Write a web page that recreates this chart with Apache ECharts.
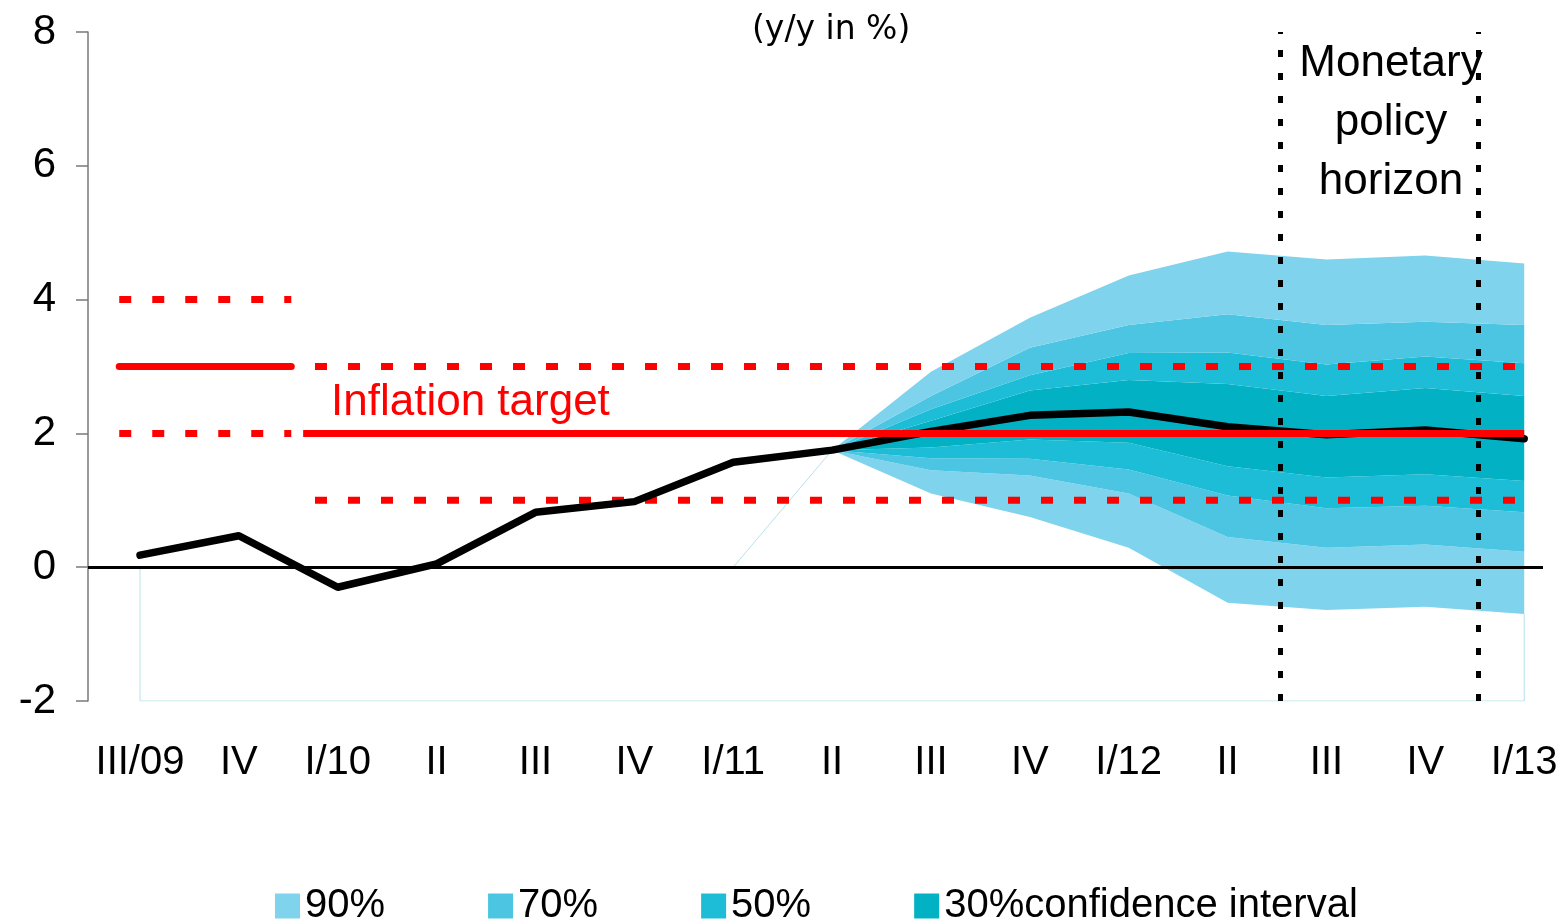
<!DOCTYPE html>
<html>
<head>
<meta charset="utf-8">
<title>Inflation forecast</title>
<script src="https://cdn.jsdelivr.net/npm/echarts@6/dist/echarts.min.js"></script>
<style>
  html, body { margin: 0; padding: 0; background: #fff; }
  #chart { width: 1565px; height: 919px; }
</style>
</head>
<body>
<div id="chart"></div>
<script>
// quarters on the x axis
const categories = ['III/09', 'IV', 'I/10', 'II', 'III', 'IV', 'I/11', 'II', 'III', 'IV', 'I/12', 'II', 'III', 'IV', 'I/13'];
// CPI y/y in %
const inflation = [0.18, 0.47, -0.30, 0.05, 0.82, 0.98, 1.57, 1.75, 2.03, 2.27, 2.32, 2.10, 1.98, 2.05, 1.92];

// fan chart, starts at II/11 (index 7)
const fanStart = 7;
const upper90 = [1.75, 2.92, 3.73, 4.36, 4.72, 4.60, 4.66, 4.54];
const upper70 = [1.75, 2.56, 3.28, 3.62, 3.78, 3.62, 3.67, 3.62];
const upper50 = [1.75, 2.36, 2.87, 3.20, 3.21, 3.03, 3.15, 3.05];
const upper30 = [1.75, 2.19, 2.64, 2.80, 2.74, 2.56, 2.68, 2.56];
const lower30 = [1.75, 1.79, 1.91, 1.86, 1.51, 1.34, 1.39, 1.29];
const lower50 = [1.75, 1.63, 1.62, 1.46, 1.07, 0.88, 0.92, 0.82];
const lower70 = [1.75, 1.45, 1.37, 1.10, 0.45, 0.29, 0.34, 0.23];
const lower90 = [1.75, 1.10, 0.75, 0.29, -0.53, -0.64, -0.59, -0.70];

// inflation targets (x in quarter index units)
const oldTargetX = [-0.21, 1.53];
const oldTarget = 3;
const oldBand = [2, 4];
const newTargetX = [1.65, 14];
const newBandX = [1.77, 14];
const newTarget = 2;
const newBand = [1, 3];

// monetary policy horizon
const horizonX = [11.53, 13.545];

const yTicks = [-2, 0, 2, 4, 6, 8];

const colors = {
  c90: '#7fd3ed',
  c70: '#4bc5e1',
  c50: '#1ebdd7',
  c30: '#02b2c4',
  red: '#ff0000',
  ghost: '#b5e2ec',
};

const myChart = echarts.init(document.getElementById('chart'));

const xs = lower90.map((v, i) => fanStart + i);
// fan data is kept as [y, x] so the stack runs on the y values
const diff = (a, b) => a.map((v, i) => [+(v - b[i]).toFixed(3), xs[i]]);

function band(name, data, color) {
  return {
    name,
    type: 'line',
    stack: 'fan',
    stackStrategy: 'all',
    encode: { x: 1, y: 0 },
    data,
    symbol: 'none',
    z: 1,
    silent: true,
    itemStyle: { color },
    lineStyle: { width: 0, color },
    areaStyle: { color, opacity: 1 },
  };
}

function flat(xr, y) {
  return xr.map(x => [x, y]);
}

const dotted = { color: colors.red, width: 7, type: [12, 21] };

const option = {
  animation: false,
  textStyle: { fontFamily: 'Liberation Sans, Arial, sans-serif', color: '#000' },
  grid: { left: 88, right: 22, top: 32, bottom: 218, containLabel: false },
  legend: {
    left: 270,
    top: 881,
    icon: 'rect',
    itemWidth: 25,
    itemHeight: 25,
    itemGap: 103,
    selectedMode: false,
    data: ['90%', '70%', '50%', '30%confidence interval'],
    textStyle: { fontSize: 40, color: '#000', fontFamily: 'Liberation Sans, Arial' },
  },
  graphic: [
    {
      type: 'text', left: 752, top: 14,
      style: { text: '(y/y in %)', fontSize: 33, fontFamily: 'DejaVu Sans', fill: '#000' },
    },
    {
      type: 'text', left: 331, top: 381,
      style: { text: 'Inflation target', fontSize: 44, fontFamily: 'Liberation Sans', fill: colors.red },
    },
    {
      type: 'text', x: 1391, y: 34,
      style: {
        text: 'Monetary\npolicy\nhorizon', fontSize: 44, lineHeight: 59, align: 'center',
        fontFamily: 'Liberation Sans', fill: '#000',
      },
    },
  ],
  xAxis: {
    type: 'value',
    min: -0.526,
    max: 14.19,
    axisLine: { show: false },
    axisTick: { show: false },
    splitLine: { show: false },
    axisLabel: {
      customValues: categories.map((c, i) => i),
      formatter: v => categories[Math.round(v)] || '',
      fontSize: 40,
      margin: 42,
      color: '#000',
    },
  },
  yAxis: {
    type: 'value',
    min: yTicks[0],
    max: yTicks[yTicks.length - 1],
    interval: 2,
    splitLine: { show: false },
    axisLine: { show: true, onZero: false, lineStyle: { color: '#7a7a7a', width: 1.5 } },
    axisTick: { show: true, length: 12, lineStyle: { color: '#7a7a7a', width: 1.5 } },
    axisLabel: { fontSize: 42, margin: 32, color: '#000' },
  },
  series: [
    // stacked fan
    {
      name: 'base', type: 'line', stack: 'fan', stackStrategy: 'all', symbol: 'none', silent: true,
      encode: { x: 1, y: 0 },
      data: lower90.map((v, i) => [v, xs[i]]), lineStyle: { width: 0 }, z: 1,
    },
    band('90%', diff(lower70, lower90), colors.c90),
    band('70%', diff(lower50, lower70), colors.c70),
    band('50%', diff(lower30, lower50), colors.c50),
    band('30%confidence interval', diff(upper30, lower30), colors.c30),
    band('50%', diff(upper50, upper30), colors.c50),
    band('70%', diff(upper70, upper50), colors.c70),
    band('90%', diff(upper90, upper70), colors.c90),
    // thin leftovers of the area chart
    {
      name: 'ghost', type: 'line', symbol: 'none', silent: true, z: 1,
      data: [[0, 0], [0, yTicks[0]], [14, yTicks[0]], [14, lower90[lower90.length - 1]]],
      lineStyle: { color: colors.ghost, width: 1 },
    },
    {
      name: 'ghost2', type: 'line', symbol: 'none', silent: true, z: 1,
      data: [[fanStart - 1, 0], [fanStart, lower90[0]]],
      lineStyle: { color: colors.ghost, width: 1 },
    },
    // zero line and policy horizon
    {
      name: 'lines', type: 'line', data: [], z: 3, silent: true,
      markLine: {
        silent: true,
        symbol: 'none',
        label: { show: false },
        animation: false,
        data: [
          { yAxis: 0, lineStyle: { color: '#000', width: 3, type: 'solid' } },
          { xAxis: horizonX[0], lineStyle: { color: '#000', width: 5, type: [7, 16] } },
          { xAxis: horizonX[1], lineStyle: { color: '#000', width: 5, type: [7, 16] } },
        ],
      },
    },
    // inflation target bands
    { name: 'old hi', type: 'line', symbol: 'none', silent: true, z: 4, data: flat(oldTargetX, oldBand[1]), lineStyle: dotted },
    { name: 'old lo', type: 'line', symbol: 'none', silent: true, z: 4, data: flat(oldTargetX, oldBand[0]), lineStyle: dotted },
    { name: 'new hi', type: 'line', symbol: 'none', silent: true, z: 4, data: flat(newBandX, newBand[1]), lineStyle: dotted },
    { name: 'new lo', type: 'line', symbol: 'none', silent: true, z: 4, data: flat(newBandX, newBand[0]), lineStyle: dotted },
    // CPI
    {
      name: 'CPI', type: 'line', symbol: 'none', silent: true, z: 5,
      data: inflation.map((v, i) => [i, v]),
      lineStyle: { color: '#000', width: 7.5, join: 'round', cap: 'round' },
    },
    // targets
    {
      name: 'old target', type: 'line', symbol: 'none', silent: true, z: 6,
      data: flat(oldTargetX, oldTarget),
      lineStyle: { color: colors.red, width: 7, cap: 'round' },
    },
    {
      name: 'new target', type: 'line', symbol: 'none', silent: true, z: 6,
      data: flat(newTargetX, newTarget),
      lineStyle: { color: colors.red, width: 7 },
    },
  ],
};

myChart.setOption(option);
window.onresize = () => myChart.resize();
</script>
</body>
</html>
